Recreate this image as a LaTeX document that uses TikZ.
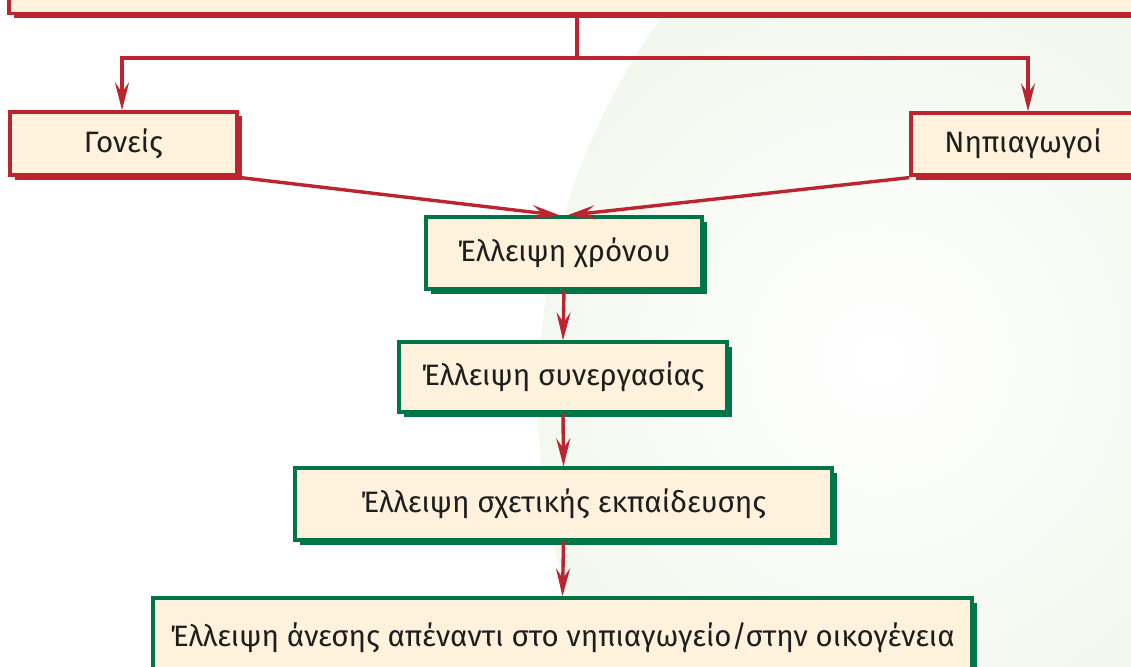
\documentclass[tikz,border=0pt]{standalone}
\usepackage{fontspec}
\setmainfont{Fira Sans}
\usetikzlibrary{arrows.meta,shadows}
\definecolor{bred}{RGB}{188,36,48}
\definecolor{bgreen}{RGB}{0,118,72}
\definecolor{cream}{RGB}{255,242,220}
\definecolor{pgreen}{RGB}{230,241,222}
\definecolor{ink}{RGB}{30,30,30}
\begin{document}
\begin{tikzpicture}[x=1pt,y=-1pt,
  basebox/.style={line width=3.2pt, fill=cream, inner sep=0pt, text=ink,
    font=\fontsize{29.5}{34}\selectfont},
  redbox/.style={basebox, draw=bred,
    general shadow={fill=bred, shadow xshift=4.5pt, shadow yshift=-4.5pt}},
  greenbox/.style={basebox, draw=bgreen,
    general shadow={fill=bgreen, shadow xshift=4.5pt, shadow yshift=-4.5pt}},
  conn/.style={draw=bred, line width=3.4pt},
  arr/.style={conn, -{Stealth[length=28pt,width=14pt,inset=10pt]}}]
\useasboundingbox (0,0) rectangle (1131,666);
% background disc
\begin{scope}
  \clip (1193,400) circle (655);
  \shade[inner color=white, outer color=pgreen] (880,360) circle (760);
\end{scope}
% boxes
\node[redbox, minimum width=1136pt, minimum height=73pt] (top) at (577,-23) {};
\node[redbox, minimum width=227pt, minimum height=63pt] (gon) at (123.5,143.5) {Γονείς};
\node[redbox, minimum width=224pt, minimum height=62pt] (nip) at (1023,144) {\raisebox{-5pt}{Νηπιαγωγοί}};
\node[greenbox, minimum width=276pt, minimum height=72pt] (chr) at (564,253) {Έλλειψη χρόνου};
\node[greenbox, minimum width=328pt, minimum height=70pt] (syn) at (563,377) {Έλλειψη συνεργασίας};
\node[greenbox, minimum width=537pt, minimum height=72pt] (sxe) at (563.5,504) {Έλλειψη σχετικής εκπαίδευσης};
\node[greenbox, minimum width=819pt, minimum height=80pt] (ane) at (562.5,638) {Έλλειψη άνεσης απέναντι στο νηπιαγωγείο/στην οικογένεια};
% connectors
\coordinate (j) at (577,58);
\draw[conn] (top.south -| j) -- (j);
\draw[arr] (j) -| ([xshift=-1.5pt]gon.north);
\draw[arr] (j) -| ([xshift=5pt]nip.north);
\draw[arr] ([xshift=2pt,yshift=-1pt]gon.south east) -- ([xshift=-4pt]chr.north);
\draw[arr] ([yshift=-1pt]nip.south west) -- ([xshift=3pt]chr.north);
\draw[arr] (chr.south) -- (syn.north);
\draw[arr] (syn.south) -- (sxe.north);
\draw[arr] (sxe.south) -- (ane.north);
\end{tikzpicture}
\end{document}
